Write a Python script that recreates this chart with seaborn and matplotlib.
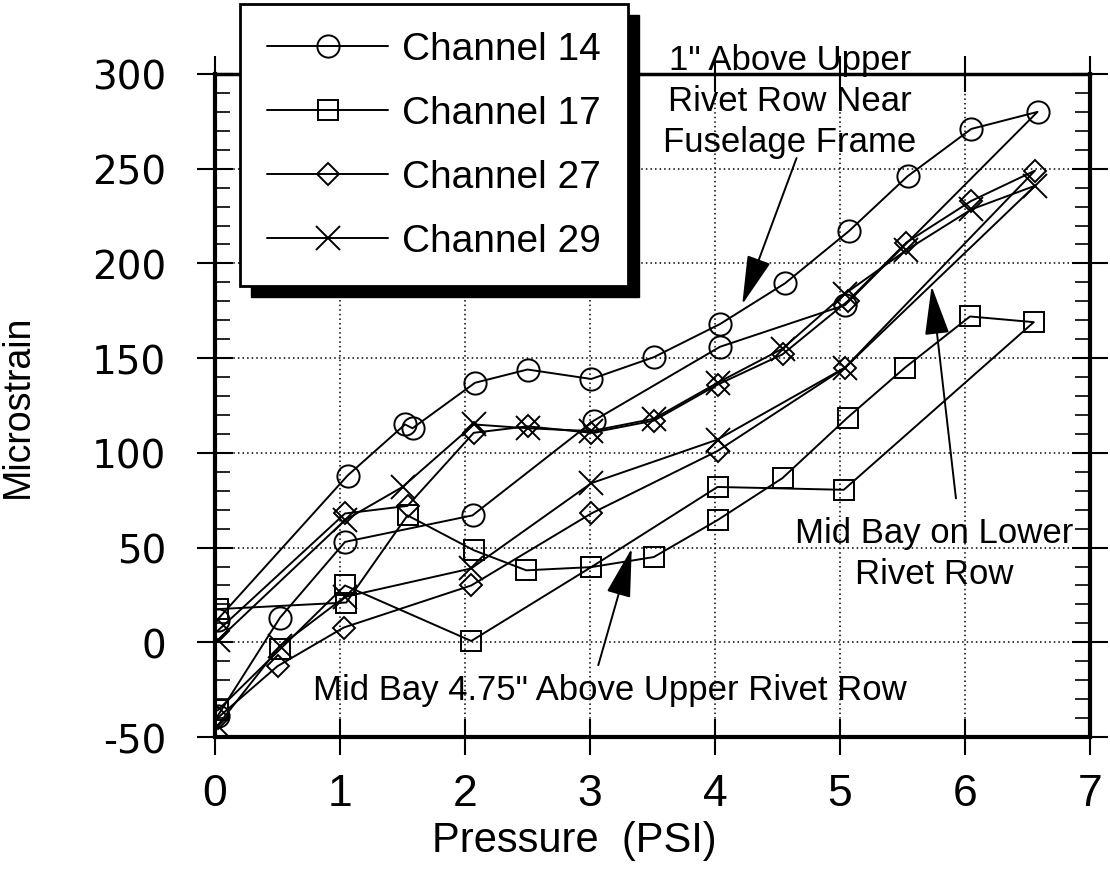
import matplotlib
matplotlib.use("Agg")
import matplotlib.pyplot as plt
import seaborn as sns
import pandas as pd
from matplotlib.patches import Rectangle
from matplotlib.ticker import MultipleLocator

channels = ["Channel 14", "Channel 17", "Channel 27", "Channel 29"]
markers = ["o", "s", "D", "x"]
marker_sizes = [16, 14, 11, 17]

# each channel: loading in 0.5 psi steps up to 6.5, then unloading in 1 psi steps
ch14_psi = [0.02, 1.06, 1.52, 1.58, 2.08, 2.50, 3.01, 3.51, 4.04, 4.56, 5.07, 5.54, 6.05, 6.58,
            5.04, 4.04, 3.03, 2.06, 1.04, 0.52, 0.02]
ch14_strain = [12, 88, 115, 113, 137, 144, 139, 150.5, 168, 189.5, 217, 246, 271, 280,
               178, 156, 117, 67, 53, 13, -39]

ch17_psi = [0.02, 1.05, 1.54, 2.07, 2.49, 3.01, 3.51, 4.02, 4.54, 5.06, 5.52, 6.04, 6.55,
            5.03, 4.02, 3.01, 2.05, 1.04, 0.52, 0.02]
ch17_strain = [17.5, 21, 67, 48.6, 38, 39.7, 45, 64.5, 86.7, 118.6, 145, 172, 169,
               80.5, 82, 39.7, 0.7, 30, -3.7, -36]

ch27_psi = [0.02, 1.04, 1.54, 2.07, 2.50, 3.01, 3.51, 4.02, 4.54, 5.06, 5.53, 6.05, 6.56,
            5.04, 4.02, 3.01, 2.05, 1.03, 0.50, 0.02]
ch27_strain = [6, 68, 72, 110.6, 114, 110.6, 117, 136, 152, 180, 211, 233, 249,
               145, 101, 68, 30, 7.8, -12.6, -40]

ch29_psi = [0.02, 1.04, 1.50, 2.07, 2.50, 3.01, 3.51, 4.02, 4.54, 5.04, 5.53, 6.05, 6.56,
            5.04, 4.02, 3.01, 2.05, 1.04, 0.52, 0.02]
ch29_strain = [1, 64.5, 82, 115, 113, 111.5, 118, 137, 155, 184, 207, 228.5, 241,
               145, 107, 84, 39, 24, -2, -44]

sns.set_style("ticks")
plt.rcParams["font.family"] = ["Liberation Sans", "DejaVu Sans"]
plt.rcParams["axes.unicode_minus"] = False
for key in ["text.color", "axes.labelcolor", "xtick.color", "ytick.color"]:
    plt.rcParams[key] = "black"

rows = []
all_psi = [ch14_psi, ch17_psi, ch27_psi, ch29_psi]
all_strain = [ch14_strain, ch17_strain, ch27_strain, ch29_strain]
for name, psi, strain in zip(channels, all_psi, all_strain):
    for i, (p, s) in enumerate(zip(psi, strain)):
        rows.append({"channel": name, "step": i, "psi": p, "strain": s})
df = pd.DataFrame(rows)

fig = plt.figure(figsize=(11.1, 8.7), dpi=100)
ax = fig.add_axes([0.1937, 0.1517, 0.7883, 0.7621])

for name, m, ms in zip(channels, markers, marker_sizes):
    sub = df[df["channel"] == name]
    sns.lineplot(data=sub, x="psi", y="strain", sort=False, estimator=None,
                 color="black", marker=m, markersize=ms, mfc="none",
                 mec="black", mew=1.4, lw=1.4, ax=ax, label=name, legend=False)

ax.set_xlim(0, 7)
ax.set_ylim(-50, 300)
ax.xaxis.set_major_locator(MultipleLocator(1))
ax.yaxis.set_major_locator(MultipleLocator(50))
ax.yaxis.set_minor_locator(MultipleLocator(10))
ax.grid(True, which="major", color="black", ls=(0, (1, 2)), lw=1.1)
ax.tick_params(which="major", direction="inout", length=26, width=1.5,
               top=True, right=True, color="black")
ax.tick_params(which="minor", direction="in", length=11, width=1.2,
               left=True, right=True, bottom=False, top=False)
ax.tick_params(axis="y", pad=22, labelsize=28)
ax.tick_params(axis="x", pad=13, labelsize=32)
for lab in ax.get_yticklabels():
    lab.set_family("DejaVu Sans")
for side in ["left", "bottom", "right"]:
    ax.spines[side].set_linewidth(3)
ax.spines["top"].set_linewidth(2.5)
for s in ax.spines.values():
    s.set_color("black")

ax.set_xlabel("Pressure  (PSI)", fontsize=30)
ax.set_ylabel("Microstrain", fontsize=27)
ax.xaxis.set_label_coords(0.411, -0.125)
ax.yaxis.set_label_coords(-0.205, 0.5)

# annotations
arrow = dict(arrowstyle="-|>,head_length=1.4,head_width=0.35",
             color="black", lw=1.4, mutation_scale=22)
ax.text(4.6, 286, '1" Above Upper\nRivet Row Near\nFuselage Frame', fontsize=25,
        ha="center", va="center", linespacing=1.32)
ax.annotate("", xy=(4.21, 177), xytext=(4.66, 257), arrowprops=arrow)

ax.text(5.75, 47, "Mid Bay on Lower\nRivet Row", fontsize=25,
        ha="center", va="center", linespacing=1.32)
ax.annotate("", xy=(5.73, 189.5), xytext=(5.93, 74.5), arrowprops=arrow)

ax.text(3.16, -25, 'Mid Bay 4.75" Above Upper Rivet Row', fontsize=25,
        ha="center", va="center")
ax.annotate("", xy=(3.34, 51), xytext=(3.06, -13.5), arrowprops=arrow)

# legend with a solid drop shadow
leg = fig.legend(handles=ax.lines[:4], labels=channels, loc="upper left",
                 bbox_to_anchor=(240 / 1110, 1 - 5 / 870), fontsize=28,
                 frameon=True, fancybox=False, handlelength=3.1, handletextpad=0.36,
                 labelspacing=0.72, borderpad=0.7, borderaxespad=0)
leg.get_frame().set_edgecolor("black")
leg.get_frame().set_linewidth(2)
leg.get_frame().set_facecolor("white")
leg.get_frame().set_alpha(1)
leg.set_zorder(6)

fig.canvas.draw()
bb = leg.get_window_extent().transformed(fig.transFigure.inverted())
dx, dy = 11 / 1110, 11 / 870
fig.patches.append(Rectangle((bb.x0 + dx, bb.y0 - dy), bb.width, bb.height,
                             transform=fig.transFigure, facecolor="black",
                             edgecolor="black", zorder=5))

fig.savefig("out.png", dpi=100)
